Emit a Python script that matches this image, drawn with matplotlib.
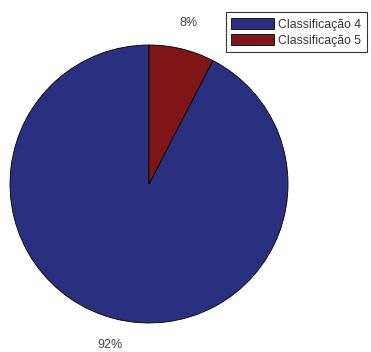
import matplotlib
matplotlib.use("Agg")
import matplotlib.pyplot as plt

labels = ["Classificação 4", "Classificação 5"]
values = [92.4, 7.6]
pct_labels = ["92%", "8%"]
colors = ["#2b2f80", "#7f1517"]

plt.rcParams['font.family'] = ['Liberation Sans', 'DejaVu Sans']

fig = plt.figure(figsize=(3.71, 3.52), dpi=100)
ax = fig.add_axes([10/371, (352-184-139)/352, 278/371, 278/352])
wedges, texts = ax.pie(values, colors=colors, startangle=90, counterclock=True,
                       labels=pct_labels, labeldistance=1.19,
                       wedgeprops=dict(edgecolor="black", linewidth=0.6),
                       textprops=dict(fontsize=9, color="#444444"))
for t in texts:
    t.set_ha("center")
    t.set_va("center")
ax.set_xlim(-1, 1)
ax.set_ylim(-1, 1)
ax.set_aspect("equal")
ax.axis("off")

leg = fig.legend(wedges, labels, loc="upper right", bbox_to_anchor=(367/371, 1 - 12/352),
                 fontsize=8.8, frameon=True, fancybox=False, edgecolor="black",
                 handlelength=3.5, handleheight=1.1, handletextpad=0.35,
                 borderpad=0.45, labelspacing=0.25, borderaxespad=0)
leg.get_frame().set_linewidth(0.8)
for t in leg.get_texts():
    t.set_color("#333333")

fig.savefig("out.png", dpi=100)
